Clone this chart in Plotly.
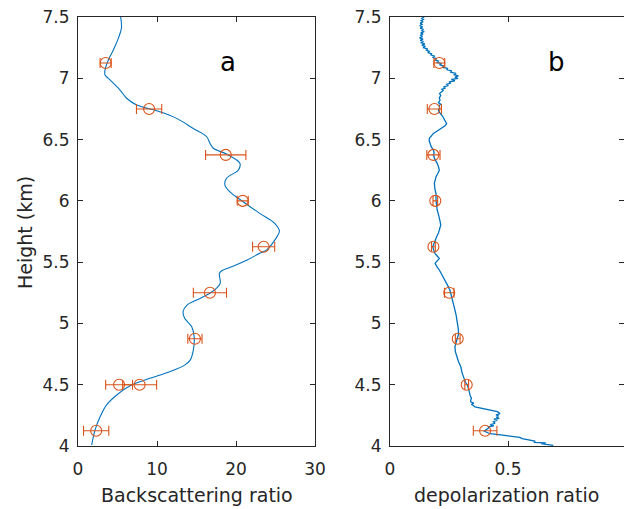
import plotly.graph_objects as go

# ---- Panel a: backscattering ratio profile ----
bsr_height = [4.008, 4.13, 4.239, 4.334, 4.416, 4.492, 4.552, 4.606, 4.66, 4.701,
              4.783, 4.892, 4.973, 5.042, 5.096, 5.15, 5.191, 5.246, 5.286, 5.327,
              5.409, 5.43, 5.468, 5.517, 5.572, 5.6, 5.68, 5.754, 5.817, 5.898,
              5.993, 6.075, 6.129, 6.184, 6.252, 6.306, 6.382, 6.429, 6.47, 6.523,
              6.59, 6.673, 6.727, 6.782, 6.837, 6.904, 7.0, 7.027, 7.068, 7.149,
              7.23, 7.326, 7.41, 7.5]
bsr_value = [1.73, 2.15, 2.8, 3.6, 4.9, 6.6, 9.1, 11.6, 13.5, 14.2,
             14.6, 14.7, 14.4, 13.5, 13.3, 13.8, 15.0, 16.7, 17.5, 18.0,
             17.9, 18.2, 19.7, 21.4, 23.0, 23.9, 24.9, 25.5, 24.9, 23.0,
             20.9, 19.2, 18.6, 18.8, 20.3, 20.5, 18.8, 17.13, 16.7, 16.29,
             14.6, 12.49, 10.38, 7.43, 6.16, 5.32, 3.84, 3.42, 3.42, 3.84,
             4.47, 5.1, 5.5, 5.4]

bsr_pt_height = [4.125, 4.5, 4.5, 4.875, 5.25, 5.625, 6.0, 6.375, 6.75, 7.125]
bsr_pt_value = [2.3, 5.2, 7.8, 14.8, 16.7, 23.5, 20.85, 18.7, 9.0, 3.5]
bsr_pt_error = [1.6, 1.7, 2.15, 0.9, 2.1, 1.4, 0.7, 2.55, 1.6, 0.7]

# ---- Panel b: depolarization ratio profile ----
dep_height = [4.005, 4.012, 4.02, 4.025, 4.03, 4.04, 4.049, 4.06, 4.07, 4.076,
              4.083, 4.09, 4.1, 4.11, 4.12, 4.13, 4.14, 4.15, 4.157, 4.165,
              4.175, 4.185, 4.198, 4.21, 4.22, 4.226, 4.235, 4.245, 4.253, 4.265,
              4.28, 4.29, 4.3, 4.31, 4.32, 4.334, 4.34, 4.35, 4.36, 4.375,
              4.39, 4.41, 4.43, 4.45, 4.47, 4.498, 4.52, 4.545, 4.566, 4.6,
              4.647, 4.69, 4.73, 4.77, 4.81, 4.845, 4.879, 4.91, 4.947, 4.99,
              5.028, 5.07, 5.11, 5.15, 5.19, 5.218, 5.246, 5.27, 5.3, 5.327,
              5.355, 5.38, 5.41, 5.436, 5.46, 5.49, 5.51, 5.53, 5.55, 5.57,
              5.6, 5.626, 5.65, 5.68, 5.71, 5.735, 5.77, 5.803, 5.835, 5.87,
              5.9, 5.925, 5.965, 6.007, 6.06, 6.1, 6.143, 6.17, 6.197, 6.225,
              6.25, 6.28, 6.306, 6.34, 6.374, 6.39, 6.415, 6.44, 6.47, 6.49,
              6.51, 6.53, 6.55, 6.57, 6.59, 6.61, 6.63, 6.66, 6.69, 6.715,
              6.74, 6.76, 6.78, 6.79, 6.8, 6.82, 6.84, 6.86, 6.875, 6.89,
              6.9, 6.91, 6.92, 6.93, 6.94, 6.95, 6.96, 6.97, 6.98, 6.99,
              7.0, 7.01, 7.02, 7.03, 7.04, 7.05, 7.06, 7.07, 7.08, 7.09,
              7.1, 7.11, 7.12, 7.13, 7.14, 7.15, 7.16, 7.17, 7.18, 7.19,
              7.2, 7.21, 7.22, 7.23, 7.24, 7.25, 7.26, 7.27, 7.28, 7.29,
              7.3, 7.31, 7.32, 7.33, 7.34, 7.35, 7.36, 7.37, 7.38, 7.39,
              7.4, 7.41, 7.42, 7.43, 7.44, 7.45, 7.46, 7.47, 7.48, 7.49,
              7.5]
dep_value = [0.692, 0.66, 0.64, 0.66, 0.61, 0.615, 0.59, 0.56, 0.55, 0.53,
             0.51, 0.47, 0.424, 0.41, 0.40, 0.405, 0.415, 0.42, 0.417, 0.44,
             0.425, 0.445, 0.438, 0.455, 0.44, 0.463, 0.45, 0.46, 0.449, 0.466,
             0.455, 0.43, 0.40, 0.381, 0.36, 0.350, 0.345, 0.355, 0.342, 0.342,
             0.345, 0.34, 0.339, 0.335, 0.332, 0.328, 0.32, 0.314, 0.311, 0.305,
             0.300, 0.29, 0.282, 0.277, 0.275, 0.28, 0.287, 0.29, 0.290, 0.287,
             0.285, 0.28, 0.275, 0.27, 0.266, 0.262, 0.257, 0.254, 0.247, 0.240,
             0.232, 0.226, 0.216, 0.209, 0.20, 0.191, 0.20, 0.209, 0.20, 0.191,
             0.185, 0.181, 0.186, 0.191, 0.198, 0.205, 0.21, 0.215, 0.212, 0.209,
             0.204, 0.200, 0.197, 0.195, 0.195, 0.19, 0.188, 0.19, 0.195, 0.203,
             0.209, 0.205, 0.200, 0.19, 0.184, 0.187, 0.184, 0.175, 0.169, 0.166,
             0.167, 0.175, 0.184, 0.2, 0.219, 0.232, 0.240, 0.232, 0.223, 0.212,
             0.205, 0.21, 0.209, 0.215, 0.205, 0.212, 0.209, 0.215, 0.21, 0.219,
             0.225, 0.218, 0.235, 0.227, 0.245, 0.24, 0.258, 0.25, 0.275, 0.26,
             0.288, 0.275, 0.29, 0.27, 0.28, 0.255, 0.262, 0.24, 0.245, 0.222,
             0.23, 0.21, 0.218, 0.2, 0.205, 0.19, 0.198, 0.18, 0.19, 0.172,
             0.178, 0.16, 0.168, 0.152, 0.16, 0.14, 0.15, 0.135, 0.148, 0.13,
             0.142, 0.128, 0.14, 0.125, 0.138, 0.128, 0.14, 0.13, 0.145, 0.133,
             0.142, 0.128, 0.138, 0.126, 0.136, 0.128, 0.14, 0.132, 0.142, 0.135,
             0.145]

dep_pt_height = [4.125, 4.5, 4.875, 5.25, 5.625, 6.0, 6.375, 6.75, 7.125]
dep_pt_value = [0.403, 0.325, 0.287, 0.251, 0.184, 0.192, 0.184, 0.188, 0.209]
dep_pt_error = [0.05, 0.008, 0.01, 0.02, 0.008, 0.01, 0.028, 0.03, 0.023]

height_ticks = [4, 4.5, 5, 5.5, 6, 6.5, 7, 7.5]
height_labels = ["4", "4.5", "5", "5.5", "6", "6.5", "7", "7.5"]
bsr_ticks = [0, 10, 20, 30]
dep_ticks = [0, 0.5, 1]
dep_labels = ["0", "0.5", "1"]

BLUE = "#0072BD"
ORANGE = "#D95319"
INK = "#262626"
FONT = "DejaVu Sans"

fig = go.Figure()

fig.add_trace(go.Scatter(x=bsr_value, y=bsr_height, mode="lines",
                         line=dict(color=BLUE, width=1.1, shape="spline", smoothing=1.0),
                         xaxis="x", yaxis="y", showlegend=False))
fig.add_trace(go.Scatter(x=bsr_pt_value, y=bsr_pt_height, mode="markers",
                         marker=dict(symbol="circle-open", size=11, color=ORANGE,
                                     line=dict(width=1.1, color=ORANGE)),
                         error_x=dict(type="data", array=bsr_pt_error, color=ORANGE,
                                      thickness=1.1, width=5),
                         xaxis="x", yaxis="y", showlegend=False))

fig.add_trace(go.Scatter(x=dep_value, y=dep_height, mode="lines",
                         line=dict(color=BLUE, width=1.3),
                         xaxis="x2", yaxis="y2", showlegend=False))
fig.add_trace(go.Scatter(x=dep_pt_value, y=dep_pt_height, mode="markers",
                         marker=dict(symbol="circle-open", size=11, color=ORANGE,
                                     line=dict(width=1.1, color=ORANGE)),
                         error_x=dict(type="data", array=dep_pt_error, color=ORANGE,
                                      thickness=1.1, width=5),
                         xaxis="x2", yaxis="y2", showlegend=False))

axis_common = dict(showline=True, linecolor=INK, linewidth=1, mirror="allticks",
                   ticks="inside", ticklen=5, tickwidth=1, tickcolor=INK,
                   showgrid=False, zeroline=False, automargin=False,
                   tickfont=dict(family=FONT, size=17, color=INK))

W, H = 624, 509
ybot, ytop = 1 - 446 / H, 1 - 17 / H
# right panel is clipped by the page edge: x = 1 lies just past it
dep_xmax = (W - 390) / 236

fig.update_layout(
    width=W, height=H,
    margin=dict(l=0, r=0, t=0, b=0, autoexpand=False),
    paper_bgcolor="white", plot_bgcolor="white",
    xaxis=dict(domain=[78 / W, 315 / W], range=[0, 30], tickvals=bsr_ticks,
               anchor="y", ticklabelstandoff=8, **axis_common),
    yaxis=dict(domain=[ybot, ytop], range=[4, 7.5], tickvals=height_ticks,
               ticktext=height_labels, anchor="x", ticklabelstandoff=4, **axis_common),
    xaxis2=dict(domain=[390 / W, 1.0], range=[0, dep_xmax], tickvals=dep_ticks,
                ticktext=dep_labels, anchor="y2", ticklabelstandoff=8, **axis_common),
    yaxis2=dict(domain=[ybot, ytop], range=[4, 7.5], tickvals=height_ticks,
                ticktext=height_labels, anchor="x2", ticklabelstandoff=4, **axis_common),
    annotations=[
        dict(text="Backscattering ratio", x=196.5 / W, y=1 - 495 / H, xref="paper", yref="paper",
             xanchor="center", yanchor="middle", showarrow=False,
             font=dict(family=FONT, size=19, color=INK)),
        dict(text="depolarization ratio", x=506 / W, y=1 - 495 / H, xref="paper", yref="paper",
             xanchor="center", yanchor="middle", showarrow=False,
             font=dict(family=FONT, size=19, color=INK)),
        dict(text="Height (km)", x=25 / W, y=1 - 233 / H, xref="paper", yref="paper",
             xanchor="center", yanchor="middle", showarrow=False, textangle=-90,
             font=dict(family=FONT, size=19, color=INK)),
        dict(text="a", x=19.0, y=7.13, xref="x", yref="y", showarrow=False,
             xanchor="center", yanchor="middle",
             font=dict(family=FONT, size=26, color="black")),
        dict(text="b", x=0.706, y=7.13, xref="x2", yref="y2", showarrow=False,
             xanchor="center", yanchor="middle",
             font=dict(family=FONT, size=26, color="black")),
    ],
)

fig.write_html("out.html")
